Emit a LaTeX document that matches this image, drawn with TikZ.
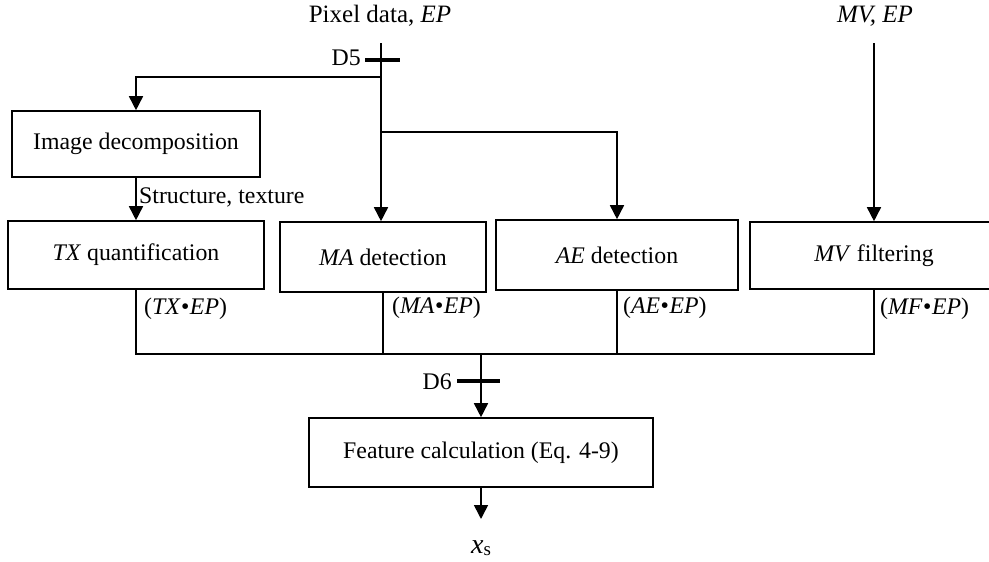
\documentclass[tikz,border=0pt]{standalone}
\usepackage{fontspec}
\setmainfont{Liberation Serif}
\usetikzlibrary{arrows.meta}

\tikzset{
  box/.style={draw, line width=1.6pt, inner sep=0pt, align=center},
  wire/.style={line width=1.6pt},
  arr/.style={wire, -{Triangle[width=14pt,length=14pt]}},
  tick/.style={line width=4pt},
  lbl/.style={inner sep=0pt},
  biglbl/.style={lbl, font=\fontsize{25}{30}\selectfont},
}
\newcommand{\dotsep}{\kern0.5pt•\kern0.5pt}

\begin{document}
\begin{tikzpicture}[x=1pt,y=-1pt,font=\fontsize{23.8}{28}\selectfont]
  \useasboundingbox (0,0) rectangle (989,562);
  \fill[white] (0,0) rectangle (989,562);

  % inputs
  \node[biglbl, anchor=base] (pix) at (380,22) {Pixel data, \textit{EP}};
  \node[biglbl, anchor=base] (mvin) at (875,22) {\textit{MV, EP}};
  \coordinate (d5top) at (381,43);
  \coordinate (d5) at (381,60);
  \coordinate (j1) at (381,77);
  \coordinate (j2) at (381,132);
  \coordinate (mvtop) at (874,43);

  % processing boxes
  \node[box, minimum width=248pt, minimum height=66pt] (img) at (136,144) {Image decomposition};
  \node[box, minimum width=256pt, minimum height=68pt] (tx) at (136,255) {\textit{TX} quantification};
  \node[box, minimum width=206pt, minimum height=70pt] (ma) at (383,257) {\textit{MA} detection};
  \node[box, minimum width=242pt, minimum height=70pt] (ae) at (617,255) {\textit{AE} detection};
  \node[box, minimum width=248pt, minimum height=67pt] (mv) at (874,255.5) {\textit{MV} filtering};
  \node[box, minimum width=344pt, minimum height=69pt] (feat) at (481,452.5) {Feature calculation (Eq. 4-9)};

  % decision point D5
  \draw[tick] (365,60) -- (400,60);
  \node[lbl, anchor=base east] (d5lbl) at (361,65) {D5};
  \draw[arr] (d5top) -- (d5top |- ma.north);
  \draw[arr] (j1) -| (img.north);
  \draw[arr] (j2) -| (ae.north);
  \draw[arr] (mvtop) -- (mv.north);

  % decomposition to texture
  \draw[arr] (img.south) -- (tx.north);
  \node[lbl, anchor=base west] (st) at (139,203) {Structure, texture};

  % collecting bus
  \coordinate (bus) at (481,354);
  \draw[wire] (tx.south) -- (tx.south |- bus) -- (mv.south |- bus) -- (mv.south);
  \draw[wire] (ma.south) -- (ma.south |- bus);
  \draw[wire] (ae.south) -- (ae.south |- bus);
  \node[lbl, anchor=base west] (otx) at (144,314) {(\textit{TX}\dotsep\textit{EP})};
  \node[lbl, anchor=base west] (oma) at (392,313) {(\textit{MA}\dotsep\textit{EP})};
  \node[lbl, anchor=base west] (oae) at (623,313) {(\textit{AE}\dotsep\textit{EP})};
  \node[lbl, anchor=base west] (omf) at (880,314) {(\textit{MF}\dotsep\textit{EP})};

  % decision point D6
  \draw[arr] (bus) -- (feat.north);
  \draw[tick] (457,381) -- (500,381);
  \node[lbl, anchor=base east] (d6lbl) at (452,389) {D6};

  % output
  \coordinate (outend) at (481,519);
  \draw[arr] (feat.south) -- (outend);
  \node[lbl, anchor=base] (xs) at (481,553) {{\fontsize{28}{30}\selectfont\textit{x}}\raisebox{-0.25ex}{\fontsize{19}{20}\selectfont s}};
\end{tikzpicture}
\end{document}
